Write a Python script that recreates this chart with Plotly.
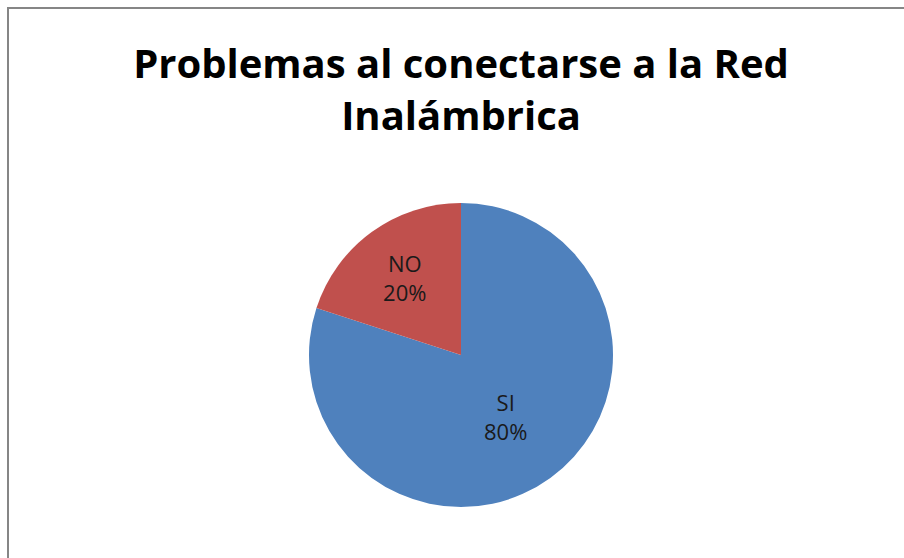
import plotly.graph_objects as go

labels = ["SI", "NO"]
values = [80, 20]
colors = ["#4f81bd", "#c0504d"]
title_text = "Problemas al conectarse a la Red<br>Inalámbrica"

W, H = 904, 558

fig = go.Figure(go.Pie(
    labels=labels,
    values=values,
    sort=False,
    direction="clockwise",
    rotation=0,
    marker=dict(colors=colors, line=dict(color="white", width=0)),
    textinfo="label+percent",
    texttemplate="%{label}<br>%{percent:.0%}",
    textposition="inside",
    insidetextorientation="horizontal",
    textfont=dict(family="Open Sans", size=22, color="#1a1a1a"),
    domain=dict(x=[309 / W, 613 / W], y=[1 - 507 / H, 1 - 203 / H]),
    showlegend=False,
    hoverinfo="label+percent",
))

fig.update_layout(
    width=W, height=H,
    margin=dict(l=0, r=0, t=0, b=0),
    paper_bgcolor="white",
    plot_bgcolor="white",
    title=dict(
        text=title_text,
        x=461 / W, xanchor="center",
        y=1 - 78 / H, yanchor="top",
        font=dict(family="Open Sans", size=40, color="#000000", weight="bold"),
    ),
    shapes=[dict(
        type="rect", xref="paper", yref="paper",
        x0=8 / W, x1=1.02, y0=-0.02, y1=1 - 8 / H,
        line=dict(color="#868686", width=2),
        fillcolor="rgba(0,0,0,0)",
        layer="below",
    )],
)

fig.write_html("out.html")
